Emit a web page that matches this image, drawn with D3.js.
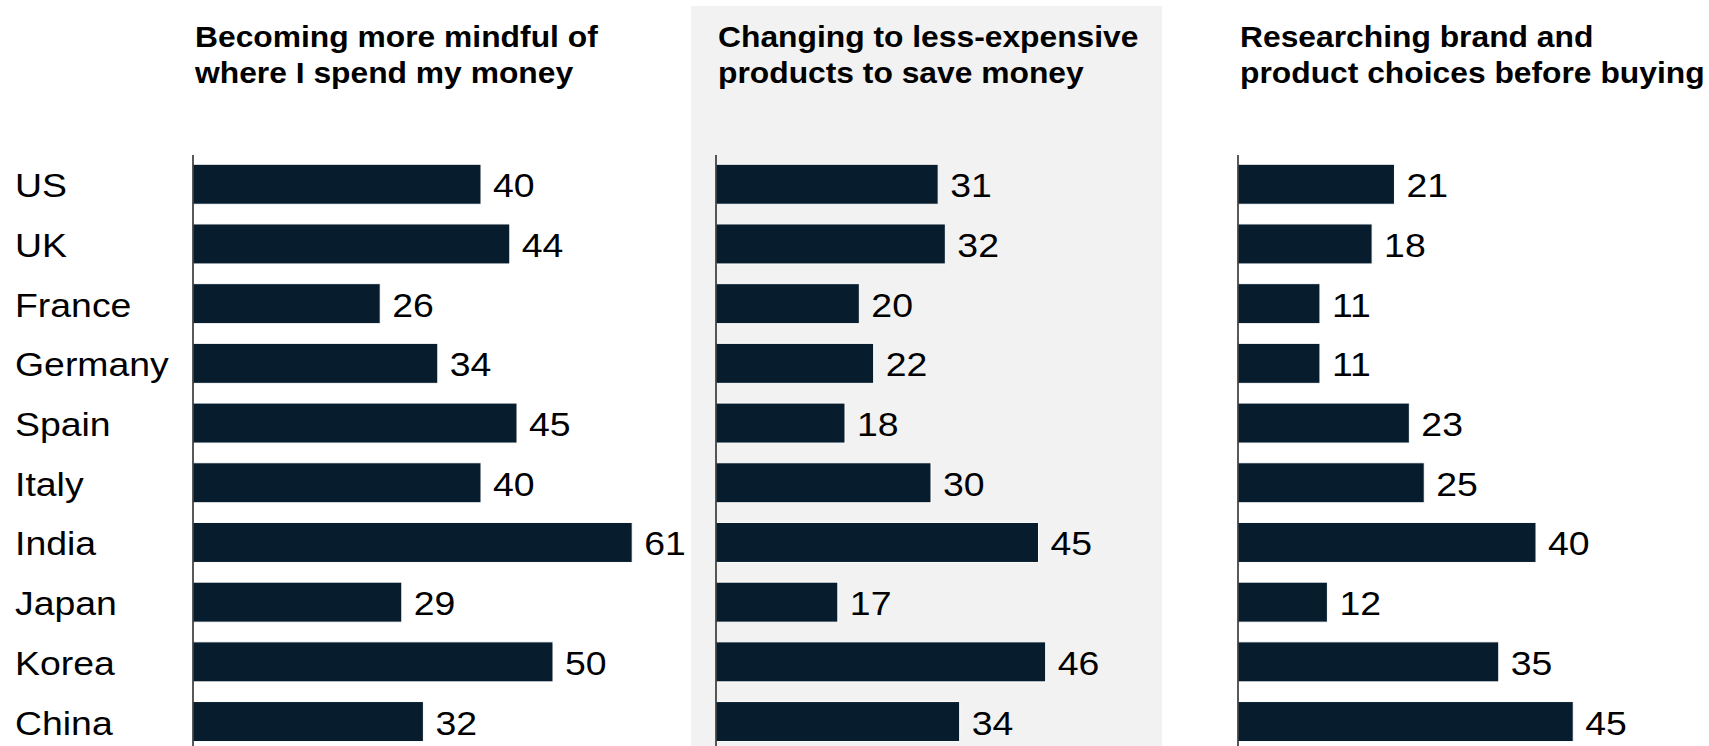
<!DOCTYPE html>
<html>
<head>
<meta charset="utf-8">
<script src="https://cdn.jsdelivr.net/npm/d3@7"></script>
<style>
  html, body { margin: 0; padding: 0; background: #fff; }
  svg { display: block; font-family: "Liberation Sans", Arial, sans-serif; }
</style>
</head>
<body>
<div id="chart"></div>
<script>
// =============================================================================
// DATA
// =============================================================================

const countries = ['US', 'UK', 'France', 'Germany', 'Spain', 'Italy', 'India', 'Japan', 'Korea', 'China'];

const mindfulValues = [40, 44, 26, 34, 45, 40, 61, 29, 50, 32];
const cheaperValues = [31, 32, 20, 22, 18, 30, 45, 17, 46, 34];
const researchValues = [21, 18, 11, 11, 23, 25, 40, 12, 35, 45];

const panelTitles = [
  ['Becoming more mindful of', 'where I spend my money'],
  ['Changing to less-expensive', 'products to save money'],
  ['Researching brand and', 'product choices before buying']
];

// =============================================================================
// LAYOUT
// =============================================================================

const WIDTH = 1709;
const HEIGHT = 746;
const BAR_COLOR = '#071d2d';
const SHADE_COLOR = '#f2f2f2';

// axis x, pixel length of the 0..60 domain, shaded background or not
const PANELS = [
  { values: mindfulValues, x: 193, span: 432, shaded: false },
  { values: cheaperValues, x: 716, span: 430, shaded: true },
  { values: researchValues, x: 1238, span: 447, shaded: false }
];

// the source picture is a little wider than tall, so text gets stretched
const LABEL_SIZE = 34;
const LABEL_STRETCH = 1.1;
const TITLE_SIZE = 30;
const TITLE_STRETCH = 1.06;

// =============================================================================
// RENDER
// =============================================================================

const svg = d3.select('#chart')
  .append('svg')
  .attr('width', WIDTH)
  .attr('height', HEIGHT);

const y = d3.scaleBand()
  .domain(countries)
  .range([154.4, 154.4 + 597])
  .paddingInner(0.33)
  .paddingOuter(0.165);

const labelY = d => y(d) + y.bandwidth() / 2 + 13;

// grey band behind the middle panel
svg.append('rect')
  .attr('x', 691)
  .attr('y', 6)
  .attr('width', 471)
  .attr('height', HEIGHT - 6)
  .attr('fill', SHADE_COLOR);

// country names
svg.append('g')
  .selectAll('text')
  .data(countries)
  .join('text')
  .attr('transform', d => `translate(15,${labelY(d)}) scale(${LABEL_STRETCH},1)`)
  .attr('font-size', LABEL_SIZE)
  .attr('fill', '#000')
  .text(d => d);

PANELS.forEach((panel, i) => {
  const x = d3.scaleLinear().domain([0, 60]).range([0, panel.span]);
  const g = svg.append('g').attr('transform', `translate(${panel.x},0)`);

  // title
  const title = g.append('text')
    .attr('transform', `translate(2,47) scale(${TITLE_STRETCH},1)`)
    .attr('font-size', TITLE_SIZE)
    .attr('font-weight', 'bold')
    .attr('fill', '#000');
  title.selectAll('tspan')
    .data(panelTitles[i])
    .join('tspan')
    .attr('x', 0)
    .attr('dy', (d, j) => j === 0 ? 0 : 36)
    .text(d => d);

  // bars
  g.selectAll('rect.bar')
    .data(panel.values)
    .join('rect')
    .attr('class', 'bar')
    .attr('x', 0)
    .attr('y', (d, j) => y(countries[j]))
    .attr('width', d => x(d))
    .attr('height', y.bandwidth())
    .attr('fill', BAR_COLOR)
    .attr('stroke', '#fff')
    .attr('stroke-width', 1);

  // value labels
  g.selectAll('text.value')
    .data(panel.values)
    .join('text')
    .attr('class', 'value')
    .attr('transform', (d, j) => `translate(${x(d) + 12},${labelY(countries[j])}) scale(${LABEL_STRETCH},1)`)
    .attr('font-size', LABEL_SIZE)
    .attr('fill', '#000')
    .text(d => d);

  // baseline axis
  g.append('line')
    .attr('x1', 0)
    .attr('x2', 0)
    .attr('y1', 155)
    .attr('y2', HEIGHT)
    .attr('stroke', '#222')
    .attr('stroke-width', 1.5);
});
</script>
</body>
</html>
